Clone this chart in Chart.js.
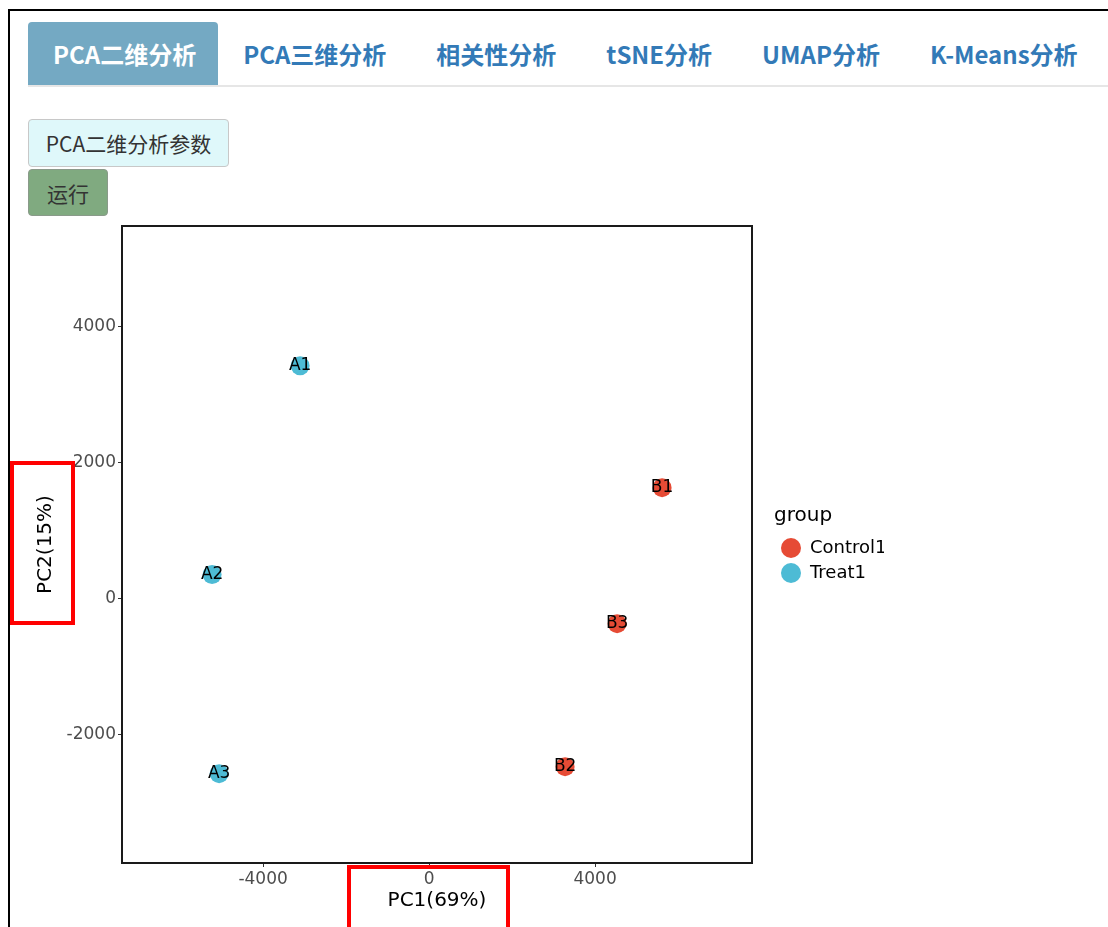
<!DOCTYPE html>
<html lang="zh-CN">
<head>
<meta charset="utf-8">
<title>PCA二维分析</title>
<script src="https://cdn.jsdelivr.net/npm/chart.js@4.4.1/dist/chart.umd.min.js"></script>
<style>
  html, body { margin: 0; padding: 0; background: #fff; }
  body { width: 1108px; height: 927px; position: relative; overflow: hidden; font-family: "Noto Sans CJK SC", "Open Sans", sans-serif; }
  .frame { position: absolute; left: 8px; top: 9px; right: -10px; bottom: -10px; border-top: 2px solid #000; border-left: 2px solid #000; }
  .tabs { position: absolute; left: 28px; top: 22px; right: 0; height: 63px; display: flex; border-bottom: 2px solid #e6e6e6; }
  .tab { padding: 0 25px; line-height: 63px; font-size: 24px; font-weight: 700; color: #337ab7; white-space: nowrap; }
  .tab.active { background: #74a9c3; color: #fff; border-radius: 4px 4px 0 0; padding-right: 22px; }
  .btn { position: absolute; left: 28px; box-sizing: border-box; border: 1px solid #c8c8c8; border-radius: 4px; font-size: 21px; color: #333; display: flex; align-items: center; justify-content: center; }
  #paramBtn { top: 119px; width: 201px; height: 48px; background: #dff8fa; }
  #runBtn { top: 169px; width: 80px; height: 47px; background: #80aa80; border-color: #8a9a8a; }
  #chartBox { position: absolute; left: 0; top: 206px; }
  .mark { position: absolute; border: 4px solid #ff0000; box-sizing: border-box; pointer-events: none; }
</style>
</head>
<body>
<div class="frame"></div>
<div class="tabs">
  <div class="tab active">PCA二维分析</div>
  <div class="tab">PCA三维分析</div>
  <div class="tab">相关性分析</div>
  <div class="tab">tSNE分析</div>
  <div class="tab">UMAP分析</div>
  <div class="tab">K-Means分析</div>
</div>
<div class="btn" id="paramBtn">PCA二维分析参数</div>
<div class="btn" id="runBtn">运行</div>
<div id="chartBox"><canvas id="pcaChart" width="1000" height="721"></canvas></div>
<div class="mark" style="left:10px; top:461px; width:65px; height:164px;"></div>
<div class="mark" style="left:347px; top:865px; width:163px; height:70px;"></div>

<script>
const groupNames = ['Control1', 'Treat1'];

const controlSamples = ['B1', 'B2', 'B3'];
const controlPC1 = [5614, 3277, 4530];
const controlPC2 = [1632, -2471, -368];

const treatSamples = ['A1', 'A2', 'A3'];
const treatPC1 = [-3108, -5229, -5060];
const treatPC2 = [3426, 353, -2574];

const xTicks = [-4000, 0, 4000];
const yTicks = [-2000, 0, 2000, 4000];
const xRange = [-7400, 7780];
const yRange = [-3888, 5480];

const toPoints = (xs, ys, names) => xs.map((x, i) => ({ x: x, y: ys[i], label: names[i] }));

Chart.defaults.font.family = "'DejaVu Sans', sans-serif";

// sample names written on top of each point
const sampleLabels = {
    id: 'sampleLabels',
    afterDatasetsDraw(chart) {
        const ctx = chart.ctx;
        ctx.save();
        ctx.font = "17px 'DejaVu Sans'";
        ctx.fillStyle = '#000';
        ctx.textAlign = 'center';
        ctx.textBaseline = 'middle';
        chart.data.datasets.forEach((ds, i) => {
            chart.getDatasetMeta(i).data.forEach((pt, j) => {
                ctx.fillText(ds.data[j].label, pt.x, pt.y);
            });
        });
        ctx.restore();
    }
};

// top and right axes only draw the panel border
const frameAxis = (position, fit) => ({
    type: 'linear',
    position: position,
    display: true,
    grid: { display: false, drawTicks: false },
    ticks: { display: false },
    border: { display: true, color: '#1a1a1a', width: 2 },
    afterFit: fit
});

new Chart(document.getElementById('pcaChart').getContext('2d'), {
    type: 'scatter',
    data: {
        datasets: [{
            label: groupNames[0],
            data: toPoints(controlPC1, controlPC2, controlSamples),
            backgroundColor: '#E64B35',
            borderColor: '#E64B35',
            borderWidth: 0,
            pointRadius: 9.5
        }, {
            label: groupNames[1],
            data: toPoints(treatPC1, treatPC2, treatSamples),
            backgroundColor: '#4DBBD5',
            borderColor: '#4DBBD5',
            borderWidth: 0,
            pointRadius: 9.5
        }]
    },
    options: {
        responsive: false,
        animation: false,
        events: [],
        layout: { padding: { left: 29, top: 0, right: 116, bottom: 12 } },
        scales: {
            x: {
                type: 'linear',
                position: 'bottom',
                min: xRange[0],
                max: xRange[1],
                afterBuildTicks: s => { s.ticks = xTicks.map(v => ({ value: v })); },
                afterFit: s => { s.height = 52; },
                grid: { drawOnChartArea: false, drawTicks: true, tickLength: 4, color: '#333' },
                border: { display: true, color: '#1a1a1a', width: 2 },
                ticks: { color: '#4D4D4D', font: { size: 17 }, padding: 2, maxRotation: 0, callback: v => String(v) },
                title: { display: true, text: 'PC1(69%)', color: '#000', font: { size: 20 }, padding: { top: 4, bottom: 2 } }
            },
            y: {
                type: 'linear',
                position: 'left',
                min: yRange[0],
                max: yRange[1],
                afterBuildTicks: s => { s.ticks = yTicks.map(v => ({ value: v })); },
                afterFit: s => { s.width = 93; },
                grid: { drawOnChartArea: false, drawTicks: true, tickLength: 4, color: '#333' },
                border: { display: true, color: '#1a1a1a', width: 2 },
                ticks: { color: '#4D4D4D', font: { size: 17 }, padding: 2, callback: v => String(v) },
                title: { display: true, text: 'PC2(15%)', color: '#000', font: { size: 20 }, padding: { top: 5, bottom: 4 } }
            },
            x2: frameAxis('top', s => { s.height = 20; }),
            y2: frameAxis('right', s => { s.width = 22; })
        },
        plugins: {
            tooltip: { enabled: false },
            legend: {
                display: true,
                position: 'right',
                align: 'start',
                maxWidth: 110,
                title: { display: true, text: 'group', position: 'start', color: '#000', font: { size: 20 }, padding: { top: 300, bottom: 2 } },
                labels: { usePointStyle: true, pointStyle: 'circle', boxHeight: 14, pointStyleWidth: 20, color: '#000', font: { size: 18 }, padding: 7 }
            }
        }
    },
    plugins: [sampleLabels]
});
</script>
</body>
</html>
